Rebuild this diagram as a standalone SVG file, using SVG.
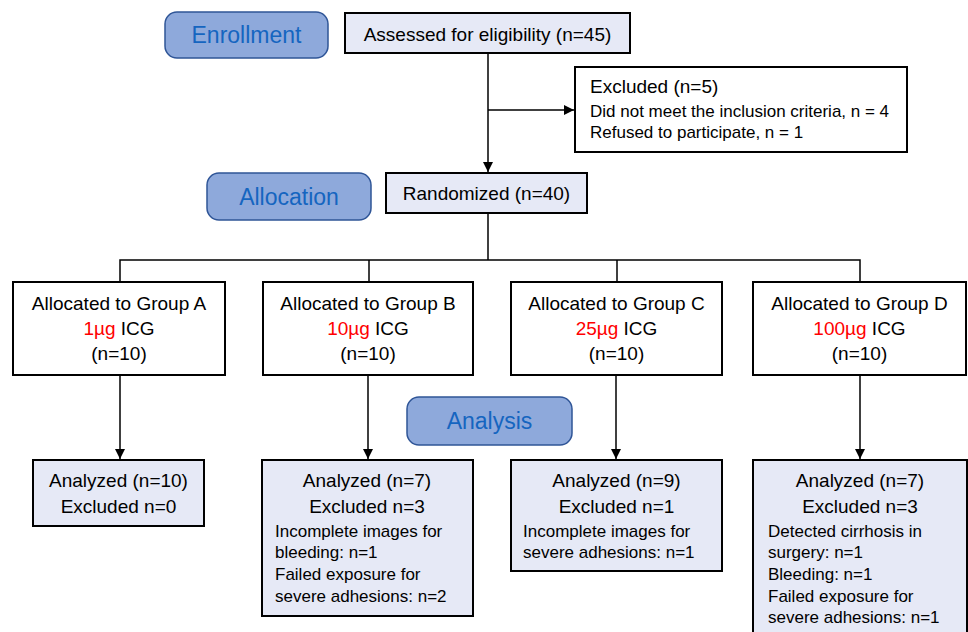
<svg xmlns="http://www.w3.org/2000/svg" width="968" height="632" viewBox="0 0 968 632">
<style>
text{font-family:"Liberation Sans",Arial,sans-serif;fill:#000}
.box{fill:#E6E9F6;stroke:#000;stroke-width:2}
.wbox{fill:#fff;stroke:#000;stroke-width:2}
.lab{fill:#8EA9DB;stroke:#2F5597;stroke-width:1.5}
.labt{font-size:23px;fill:#1565C0;text-anchor:middle}
.big{font-size:19px;text-anchor:middle}
.sm{font-size:17px}
.red{fill:#FF0000}
.ln{fill:none;stroke:#000;stroke-width:1.5}
</style>
<defs>
<marker id="ah" viewBox="0 0 10 10" refX="10" refY="5" markerWidth="10" markerHeight="10" markerUnits="userSpaceOnUse" orient="auto">
<path d="M0,0 L10,5 L0,10 z" fill="#000"/>
</marker>
</defs>
<rect width="968" height="632" fill="#fff"/>
<g id="connectors">
<line class="ln" x1="488" y1="53" x2="488" y2="172" marker-end="url(#ah)"/>
<line class="ln" x1="488" y1="110" x2="574" y2="110" marker-end="url(#ah)"/>
<polyline class="ln" points="488,213 488,260"/>
<polyline class="ln" points="120,282 120,260 860,260 860,282"/>
<line class="ln" x1="369" y1="260" x2="369" y2="282"/>
<line class="ln" x1="617" y1="260" x2="617" y2="282"/>
<line class="ln" x1="120" y1="375" x2="120" y2="459" marker-end="url(#ah)"/>
<line class="ln" x1="368" y1="375" x2="368" y2="459" marker-end="url(#ah)"/>
<line class="ln" x1="616" y1="375" x2="616" y2="459" marker-end="url(#ah)"/>
<line class="ln" x1="860" y1="375" x2="860" y2="459" marker-end="url(#ah)"/>
</g>
<g id="enrollment">
<rect class="lab" x="165" y="12" width="163" height="46" rx="12"/>
<text class="labt" x="246.5" y="43">Enrollment</text>
</g>
<g id="assessed">
<rect class="box" x="345" y="13" width="285" height="40"/>
<text class="big" x="487.5" y="41">Assessed for eligibility (n=45)</text>
</g>
<g id="excluded">
<rect class="wbox" x="575" y="67" width="332" height="85"/>
<text x="590" y="93" style="font-size:19px">Excluded (n=5)</text>
<text class="sm" x="590" y="117">Did not meet the inclusion criteria, n = 4</text>
<text class="sm" x="590" y="138">Refused to participate, n = 1</text>
</g>
<g id="allocation">
<rect class="lab" x="207" y="173" width="164" height="47" rx="12"/>
<text class="labt" x="289" y="205">Allocation</text>
</g>
<g id="randomized">
<rect class="box" x="386" y="173" width="201" height="40"/>
<text class="big" x="486.5" y="200">Randomized (n=40)</text>
</g>
<g id="groupA">
<rect class="wbox" x="13" y="282" width="212" height="93"/>
<text class="big" x="119" y="310">Allocated to Group A</text>
<text class="big" x="119" y="335"><tspan class="red">1µg</tspan> ICG</text>
<text class="big" x="119" y="360">(n=10)</text>
</g>
<g id="groupB">
<rect class="wbox" x="263" y="282" width="210" height="93"/>
<text class="big" x="368" y="310">Allocated to Group B</text>
<text class="big" x="368" y="335"><tspan class="red">10µg</tspan> ICG</text>
<text class="big" x="368" y="360">(n=10)</text>
</g>
<g id="groupC">
<rect class="wbox" x="511" y="282" width="211" height="93"/>
<text class="big" x="616.5" y="310">Allocated to Group C</text>
<text class="big" x="616.5" y="335"><tspan class="red">25µg</tspan> ICG</text>
<text class="big" x="616.5" y="360">(n=10)</text>
</g>
<g id="groupD">
<rect class="wbox" x="753" y="282" width="213" height="93"/>
<text class="big" x="859.5" y="310">Allocated to Group D</text>
<text class="big" x="859.5" y="335"><tspan class="red">100µg</tspan> ICG</text>
<text class="big" x="859.5" y="360">(n=10)</text>
</g>
<g id="analysis">
<rect class="lab" x="407" y="397" width="165" height="48" rx="12"/>
<text class="labt" x="489.5" y="429">Analysis</text>
</g>
<g id="analyzedA">
<rect class="box" x="33" y="460" width="171" height="66"/>
<text class="big" x="118.5" y="487">Analyzed (n=10)</text>
<text class="big" x="118.5" y="513">Excluded n=0</text>
</g>
<g id="analyzedB">
<rect class="box" x="262" y="460" width="211" height="156"/>
<text class="big" x="367" y="487">Analyzed (n=7)</text>
<text class="big" x="367" y="513">Excluded n=3</text>
<text class="sm" x="275" y="537">Incomplete images for</text>
<text class="sm" x="275" y="558">bleeding: n=1</text>
<text class="sm" x="275" y="580">Failed exposure for</text>
<text class="sm" x="275" y="602">severe adhesions: n=2</text>
</g>
<g id="analyzedC">
<rect class="box" x="511" y="460" width="211" height="111"/>
<text class="big" x="616.5" y="487">Analyzed (n=9)</text>
<text class="big" x="616.5" y="513">Excluded n=1</text>
<text class="sm" x="523" y="537">Incomplete images for</text>
<text class="sm" x="523" y="558">severe adhesions: n=1</text>
</g>
<g id="analyzedD">
<rect class="box" x="753" y="460" width="214" height="180"/>
<text class="big" x="860" y="487">Analyzed (n=7)</text>
<text class="big" x="860" y="513">Excluded n=3</text>
<text class="sm" x="768" y="537">Detected cirrhosis in</text>
<text class="sm" x="768" y="558">surgery: n=1</text>
<text class="sm" x="768" y="580">Bleeding: n=1</text>
<text class="sm" x="768" y="602">Failed exposure for</text>
<text class="sm" x="768" y="623">severe adhesions: n=1</text>
</g>
</svg>
